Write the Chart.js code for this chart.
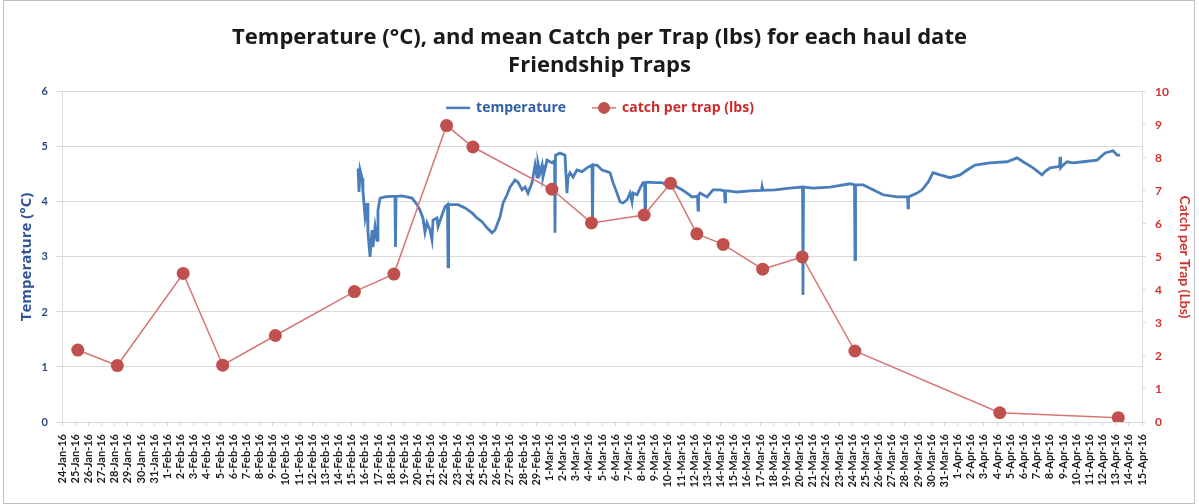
<!DOCTYPE html>
<html><head><meta charset="utf-8">
<script src="https://cdn.jsdelivr.net/npm/chart.js@4.4.0/dist/chart.umd.min.js"></script>
<style>
html,body{margin:0;padding:0;background:#fff;}
#wrap{position:relative;width:1199px;height:504px;}
</style></head><body>
<div id="wrap"><canvas id="c" width="1199" height="504"></canvas></div>
<script>
// ---- tick labels (one per day, 24-Jan-16 = day 0) ----
const dateLabels = ['24-Jan-16','25-Jan-16','26-Jan-16','27-Jan-16','28-Jan-16','29-Jan-16','30-Jan-16','31-Jan-16',
'1-Feb-16','2-Feb-16','3-Feb-16','4-Feb-16','5-Feb-16','6-Feb-16','7-Feb-16','8-Feb-16','9-Feb-16','10-Feb-16',
'11-Feb-16','12-Feb-16','13-Feb-16','14-Feb-16','15-Feb-16','16-Feb-16','17-Feb-16','18-Feb-16','19-Feb-16','20-Feb-16',
'21-Feb-16','22-Feb-16','23-Feb-16','24-Feb-16','25-Feb-16','26-Feb-16','27-Feb-16','28-Feb-16','29-Feb-16',
'1-Mar-16','2-Mar-16','3-Mar-16','4-Mar-16','5-Mar-16','6-Mar-16','7-Mar-16','8-Mar-16','9-Mar-16','10-Mar-16',
'11-Mar-16','12-Mar-16','13-Mar-16','14-Mar-16','15-Mar-16','16-Mar-16','17-Mar-16','18-Mar-16','19-Mar-16','20-Mar-16',
'21-Mar-16','22-Mar-16','23-Mar-16','24-Mar-16','25-Mar-16','26-Mar-16','27-Mar-16','28-Mar-16','29-Mar-16','30-Mar-16','31-Mar-16',
'1-Apr-16','2-Apr-16','3-Apr-16','4-Apr-16','5-Apr-16','6-Apr-16','7-Apr-16','8-Apr-16','9-Apr-16','10-Apr-16',
'11-Apr-16','12-Apr-16','13-Apr-16','14-Apr-16','15-Apr-16'];

// ---- catch per trap (lbs), haul day (days since 24-Jan-16) ----
const catchDays   = [1.2, 4.2, 9.2, 12.2, 16.2, 22.2, 25.2, 29.2, 31.2, 37.2, 40.2, 44.2, 46.2, 48.2, 50.2, 53.2, 56.2, 60.2, 71.2, 80.2];
const catchValues = [2.18, 1.71, 4.5, 1.72, 2.62, 3.95, 4.48, 8.98, 8.33, 7.05, 6.03, 6.27, 7.23, 5.7, 5.38, 4.63, 5.0, 2.15, 0.28, 0.13];

// ---- temperature (°C), logger time (days since 24-Jan-16) ----
const tempDays = [22.48,22.55,22.63,22.78,22.85,23.01,23.16,23.23,23.39,23.54,23.61,23.77,23.92,23.99,24.15,24.53,24.91,25.28,25.32,25.36,
25.82,26.58,26.96,27.18,27.41,27.56,27.71,27.94,28.09,28.17,28.47,28.55,28.85,29.08,29.27,29.31,29.35,29.61,30.07,30.60,
31.13,31.51,31.89,32.27,32.65,32.88,33.26,33.49,33.79,34.02,34.40,34.62,34.93,35.16,35.38,35.69,35.92,36.07,36.14,36.29,
36.45,36.52,36.83,37.21,37.40,37.43,37.47,37.81,38.19,38.34,38.42,38.57,38.80,39.10,39.48,39.86,40.24,40.28,40.32,40.62,
41.00,41.38,41.61,41.84,42.14,42.37,42.60,42.90,43.13,43.28,43.36,43.66,43.89,44.12,44.23,44.27,44.31,44.50,45.03,45.56,
45.94,46.32,46.70,47.08,47.46,47.84,48.25,48.29,48.33,48.44,48.98,49.43,49.96,50.30,50.34,50.38,50.57,51.25,52.24,53.11,
53.15,53.19,54.14,55.28,56.23,56.26,56.30,57.02,58.31,59.83,60.17,60.21,60.25,60.82,61.58,62.34,63.40,64.20,64.24,64.27,
64.92,65.30,65.76,66.13,66.67,67.43,68.19,68.72,69.32,70.46,71.75,72.51,72.97,73.73,74.41,74.64,75.02,75.63,75.74,75.78,
75.82,76.01,76.31,76.77,77.53,78.59,79.20,79.80,80.11,80.34];
const tempValues = [4.61,4.18,4.58,4.43,4.20,3.73,3.98,3.45,3.00,3.49,3.18,3.55,3.30,3.85,4.07,4.09,4.10,4.10,3.18,4.10,
4.11,4.07,3.95,3.85,3.70,3.45,3.62,3.49,3.31,3.67,3.71,3.55,3.76,3.91,3.95,2.82,3.95,3.95,3.95,3.89,
3.80,3.71,3.64,3.53,3.44,3.49,3.73,3.98,4.13,4.27,4.40,4.36,4.22,4.27,4.16,4.35,4.67,4.45,4.70,4.53,
4.67,4.45,4.76,4.71,4.75,3.44,4.85,4.89,4.85,4.16,4.45,4.53,4.45,4.58,4.55,4.62,4.67,3.58,4.67,4.67,
4.58,4.55,4.53,4.35,4.16,4.00,3.98,4.04,4.16,4.00,4.16,4.13,4.25,4.35,4.35,3.85,4.35,4.36,4.35,4.35,
4.31,4.35,4.27,4.22,4.16,4.09,4.10,3.85,4.12,4.16,4.09,4.22,4.22,4.20,4.00,4.20,4.20,4.18,4.20,4.21,
4.27,4.21,4.22,4.25,4.27,2.31,4.27,4.25,4.27,4.33,4.31,2.95,4.31,4.31,4.22,4.13,4.09,4.09,3.89,4.09,
4.16,4.22,4.36,4.53,4.49,4.44,4.49,4.58,4.67,4.71,4.73,4.80,4.73,4.62,4.49,4.55,4.62,4.64,4.64,4.82,
4.62,4.67,4.73,4.71,4.73,4.76,4.89,4.93,4.85,4.85];

const tempTicks  = [0,1,2,3,4,5,6];
const catchTicks = [0,1,2,3,4,5,6,7,8,9,10];

const BLUE = '#4a7ebb', RED = '#c0504d', REDLINE = '#d67674';
const FONT = 'Lato, "Open Sans", sans-serif';
const WIDE = '"Open Sans", Lato, sans-serif';

const tempData  = tempDays.map((d, i) => ({x: d, y: tempValues[i]}));
const catchData = catchDays.map((d, i) => ({x: d, y: catchValues[i]}));

const legendPlugin = {
  id: 'excelLegend',
  afterDraw(chart) {
    const {ctx, chartArea} = chart;
    ctx.save();
    ctx.font = 'bold 14px ' + WIDE;
    const items = [
      {text: 'temperature', line: BLUE, text_c: '#2f5ea6', dot: false},
      {text: 'catch per trap (lbs)', line: REDLINE, text_c: '#cc2a2a', dot: true}
    ];
    const lineW = 24, gapT = 6, gapItems = 26;
    let total = 0;
    items.forEach((it, i) => { it.w = lineW + gapT + ctx.measureText(it.text).width; total += it.w + (i ? gapItems : 0); });
    let x = (chartArea.left + chartArea.right) / 2 - total / 2 - 2;
    const y = chartArea.top + 16;
    items.forEach(it => {
      ctx.strokeStyle = it.line; ctx.lineWidth = it.dot ? 1.5 : 2.5;
      ctx.beginPath(); ctx.moveTo(x, y); ctx.lineTo(x + lineW, y); ctx.stroke();
      if (it.dot) { ctx.fillStyle = RED; ctx.beginPath(); ctx.arc(x + lineW / 2, y, 6, 0, Math.PI * 2); ctx.fill(); }
      ctx.fillStyle = it.text_c; ctx.textBaseline = 'middle'; ctx.textAlign = 'left';
      ctx.fillText(it.text, x + lineW + gapT, y);
      x += it.w + gapItems;
    });
    ctx.restore();
  }
};

const borderPlugin = {
  id: 'frame',
  beforeDraw(chart) {
    const {ctx} = chart;
    ctx.save();
    ctx.fillStyle = '#fff'; ctx.fillRect(0, 0, chart.width, chart.height);
    ctx.strokeStyle = '#bfbfbf'; ctx.lineWidth = 1;
    ctx.strokeRect(3.5, 0.5, 1191, 503);
    ctx.restore();
  }
};

new Chart(document.getElementById('c'), {
  type: 'line',
  data: {
    datasets: [
      {label: 'temperature', data: tempData, yAxisID: 'y', borderColor: BLUE, backgroundColor: BLUE,
       borderWidth: 2.8, pointRadius: 0, tension: 0, order: 2},
      {label: 'catch per trap (lbs)', data: catchData, yAxisID: 'y1', borderColor: REDLINE, backgroundColor: RED,
       borderWidth: 1.5, pointRadius: 6.5, pointBackgroundColor: RED, pointBorderColor: RED, pointBorderWidth: 0, tension: 0, order: 1}
    ]
  },
  options: {
    responsive: false, animation: false, devicePixelRatio: 1,
    layout: {padding: {left: 0, right: 0, top: 0, bottom: 0}},
    plugins: {
      legend: {display: false},
      tooltip: {enabled: false},
      title: {display: true, text: ['Temperature (°C), and mean Catch per Trap (lbs) for each haul date', 'Friendship Traps'],
        color: '#1a1a1a', font: {family: WIDE, size: 22, weight: 'bold', lineHeight: 1.27}, padding: {top: 24, bottom: 12}}
    },
    scales: {
      x: {type: 'linear', min: 0, max: dateLabels.length - 1,
        afterBuildTicks: s => { s.ticks = dateLabels.map((_, i) => ({value: i})); },
        ticks: {autoSkip: false, maxRotation: 90, minRotation: 90, padding: 8, color: '#1a1a1a',
          font: {family: FONT, size: 11, weight: 'bold'}, callback: v => dateLabels[Math.round(v)]},
        grid: {drawOnChartArea: false, drawTicks: true, tickLength: 4, color: '#d9d9d9'},
        border: {color: '#d9d9d9'},
        afterFit: s => { s.height = 82; }},
      y: {position: 'left', min: 0, max: 6,
        afterBuildTicks: s => { s.ticks = tempTicks.map(v => ({value: v})); },
        ticks: {padding: 8, color: '#2b4a80', font: {family: FONT, size: 11, weight: 'bold'}},
        grid: {color: '#d9d9d9', tickLength: 6, drawTicks: true},
        border: {color: '#d9d9d9'},
        title: {display: true, text: 'Temperature (°C)', color: '#2f5597', font: {family: WIDE, size: 15, weight: 'bold'}, padding: {top: 18, bottom: 0}},
        afterFit: s => { s.width = 62; }},
      y1: {position: 'right', min: 0, max: 10,
        afterBuildTicks: s => { s.ticks = catchTicks.map(v => ({value: v})); },
        ticks: {padding: 9, color: '#d0312d', font: {family: FONT, size: 12, weight: 'bold'}},
        grid: {drawOnChartArea: false, tickLength: 4, color: '#d9d9d9'},
        border: {color: '#d9d9d9'},
        title: {display: true, text: 'Catch per Trap (Lbs)', color: '#d0312d', font: {family: FONT, size: 14, weight: 'bold'}, padding: {top: 6, bottom: 0}},
        afterFit: s => { s.width = 57; }}
    }
  },
  plugins: [borderPlugin, legendPlugin]
});
</script>
</body></html>
